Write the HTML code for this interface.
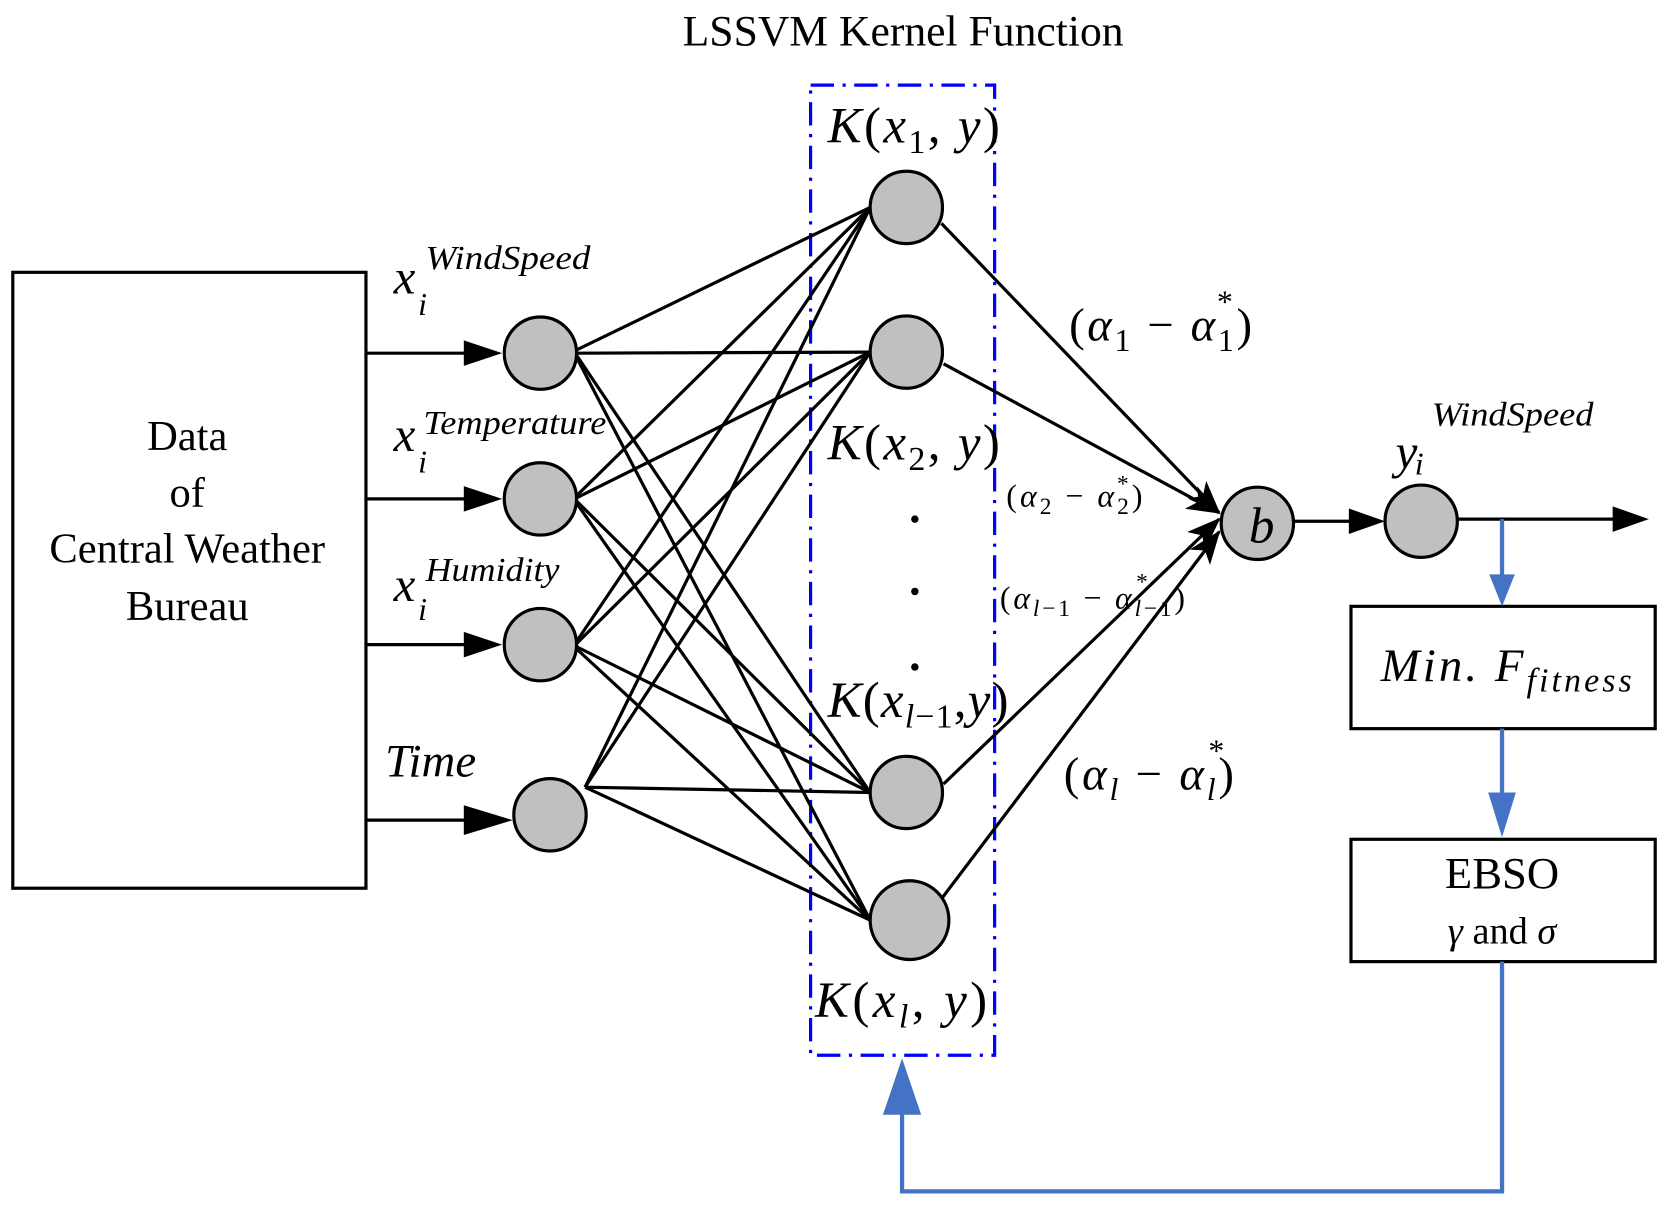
<!DOCTYPE html>
<html><head><style>html,body{margin:0;padding:0;background:#fff}svg{display:block}text{font-family:"Liberation Serif",serif}</style></head><body>
<svg width="1668" height="1210" viewBox="0 0 1568 1137.5" xmlns="http://www.w3.org/2000/svg">
<defs>
<marker id="ah" markerWidth="32" markerHeight="24" refX="30" refY="12" orient="auto" markerUnits="userSpaceOnUse" viewBox="0 0 32 24"><path d="M0,0 L32,12 L0,24 L8,12 z" fill="#000"/></marker>
</defs>
<text x="849" y="43" font-size="41" text-anchor="middle">LSSVM Kernel Function</text>
<rect x="762" y="80" width="173" height="912" fill="none" stroke="#0000ff" stroke-width="3" stroke-dasharray="22,8,3,8"/>
<rect x="12" y="256" width="332" height="579" fill="none" stroke="#000" stroke-width="3"/>
<g font-size="40" text-anchor="middle"><text x="176" y="423">Data</text><text x="176" y="476">of</text><text x="176" y="529">Central Weather</text><text x="176" y="583">Bureau</text></g>
<g stroke="#000" stroke-width="3">
<line x1="344" y1="332" x2="440" y2="332"/><line x1="344" y1="469" x2="440" y2="469"/><line x1="344" y1="606" x2="440" y2="606"/><line x1="344" y1="771" x2="440" y2="771"/>
</g>
<g fill="#000"><path d="M436,320 L472,332 L436,344z"/><path d="M436,457 L472,469 L436,481z"/><path d="M436,594 L472,606 L436,618z"/><path d="M436,757 L482,771 L436,785z"/></g>
<g stroke="#000" stroke-width="3">
<line x1="542" y1="329" x2="818" y2="195"/><line x1="542" y1="332" x2="818" y2="331"/><line x1="542" y1="334" x2="818" y2="745"/><line x1="542" y1="336" x2="818" y2="865"/>
<line x1="542" y1="466" x2="818" y2="195"/><line x1="542" y1="468" x2="818" y2="331"/><line x1="542" y1="471" x2="818" y2="745"/><line x1="542" y1="473" x2="818" y2="865"/>
<line x1="542" y1="603" x2="818" y2="195"/><line x1="542" y1="605" x2="818" y2="331"/><line x1="542" y1="608" x2="818" y2="745"/><line x1="542" y1="610" x2="818" y2="865"/>
<line x1="550" y1="740" x2="818" y2="195"/><line x1="550" y1="740" x2="818" y2="331"/><line x1="550" y1="740" x2="818" y2="745"/><line x1="550" y1="740" x2="818" y2="865"/>
<line x1="885" y1="210" x2="1146" y2="482" marker-end="url(#ah)"/>
<line x1="887" y1="342" x2="1146" y2="482" marker-end="url(#ah)"/>
<line x1="887" y1="737" x2="1146" y2="488" marker-end="url(#ah)"/>
<line x1="885" y1="845" x2="1146" y2="500" marker-end="url(#ah)"/>
<line x1="1216" y1="490" x2="1270" y2="490"/><line x1="1370" y1="488" x2="1520" y2="488"/>
</g>
<g fill="#000"><path d="M1268,478 L1302,490 L1268,502z"/><path d="M1516,476 L1550,488 L1516,500z"/></g>
<g fill="#c0c0c0" stroke="#000" stroke-width="3">
<circle cx="508" cy="332" r="34"/><circle cx="508" cy="469" r="34"/><circle cx="508" cy="606" r="34"/><circle cx="517" cy="766" r="34"/>
<circle cx="852" cy="195" r="34"/><circle cx="852" cy="331" r="34"/><circle cx="852" cy="745" r="34"/><circle cx="855" cy="865" r="37"/>
<circle cx="1182" cy="492" r="34"/><circle cx="1336" cy="490" r="34"/>
</g>
<text x="1186" y="510" font-size="48" font-style="italic" text-anchor="middle">b</text>
<g fill="#000"><circle cx="860" cy="488" r="3.5"/><circle cx="860" cy="556" r="3.5"/><circle cx="860" cy="627" r="3.5"/></g>
<g font-style="italic">
<text x="370" y="276" font-size="46">x</text><text x="393" y="296" font-size="30">i</text><text x="400" y="253" font-size="32" textLength="155" lengthAdjust="spacingAndGlyphs">WindSpeed</text>
<text x="370" y="424" font-size="46">x</text><text x="393" y="444" font-size="30">i</text><text x="398" y="408" font-size="32" textLength="172" lengthAdjust="spacingAndGlyphs">Temperature</text>
<text x="370" y="565" font-size="46">x</text><text x="393" y="583" font-size="30">i</text><text x="400" y="546" font-size="32" textLength="126" lengthAdjust="spacingAndGlyphs">Humidity</text>
<text x="362" y="730" font-size="44">Time</text>
<text x="1312" y="440" font-size="46">y</text><text x="1330" y="446" font-size="30">i</text><text x="1346" y="400" font-size="32" textLength="152" lengthAdjust="spacingAndGlyphs">WindSpeed</text>
</g>
<g font-size="48">
<text x="778" y="134" textLength="162" lengthAdjust="spacing"><tspan font-style="italic">K</tspan>(<tspan font-style="italic">x</tspan><tspan font-size="32" dy="10">1</tspan><tspan dy="-10">, </tspan><tspan font-style="italic">y</tspan>)</text>
<text x="778" y="432" textLength="162" lengthAdjust="spacing"><tspan font-style="italic">K</tspan>(<tspan font-style="italic">x</tspan><tspan font-size="32" dy="10">2</tspan><tspan dy="-10">, </tspan><tspan font-style="italic">y</tspan>)</text>
<text x="778" y="674" textLength="170" lengthAdjust="spacing"><tspan font-style="italic">K</tspan>(<tspan font-style="italic">x</tspan><tspan font-size="32" dy="10" font-style="italic">l</tspan><tspan font-size="32">−1</tspan><tspan dy="-10">,</tspan><tspan font-style="italic">y</tspan>)</text>
<text x="766" y="956" textLength="162" lengthAdjust="spacing"><tspan font-style="italic">K</tspan>(<tspan font-style="italic">x</tspan><tspan font-size="32" dy="10" font-style="italic">l</tspan><tspan dy="-10">, </tspan><tspan font-style="italic">y</tspan>)</text>
</g>
<g font-size="44">
<text x="1005" y="320" textLength="172" lengthAdjust="spacing">(<tspan font-style="italic">α</tspan><tspan font-size="30" dy="10">1</tspan><tspan dy="-10"> − </tspan><tspan font-style="italic">α</tspan><tspan font-size="30" dy="10">1</tspan><tspan dy="-10">)</tspan></text>
<text x="1144" y="294" font-size="30">*</text>
<text x="1000" y="742" textLength="160" lengthAdjust="spacing">(<tspan font-style="italic">α</tspan><tspan font-size="30" dy="10" font-style="italic">l</tspan><tspan dy="-10"> − </tspan><tspan font-style="italic">α</tspan><tspan font-size="30" dy="10" font-style="italic">l</tspan><tspan dy="-10">)</tspan></text>
<text x="1136" y="716" font-size="30">*</text>
</g>
<g font-size="30">
<text x="946" y="476" textLength="128" lengthAdjust="spacing">(<tspan font-style="italic">α</tspan><tspan font-size="22" dy="7">2</tspan><tspan dy="-7"> − </tspan><tspan font-style="italic">α</tspan><tspan font-size="22" dy="7">2</tspan><tspan dy="-7">)</tspan></text>
<text x="1050" y="462" font-size="22">*</text>
<text x="940" y="572" textLength="174" lengthAdjust="spacing">(<tspan font-style="italic">α</tspan><tspan font-size="22" dy="7"><tspan font-style="italic">l</tspan>−1</tspan><tspan dy="-7"> − </tspan><tspan font-style="italic">α</tspan><tspan font-size="22" dy="7"><tspan font-style="italic">l</tspan>−1</tspan><tspan dy="-7">)</tspan></text>
<text x="1068" y="554" font-size="22">*</text>
</g>
<rect x="1270" y="570" width="286" height="115" fill="none" stroke="#000" stroke-width="3"/>
<text x="1298" y="640" font-size="44" font-style="italic" textLength="236" lengthAdjust="spacing">Min. F<tspan font-size="32" dy="10">fitness</tspan></text>
<rect x="1270" y="789" width="286" height="115" fill="none" stroke="#000" stroke-width="3"/>
<text x="1412" y="835" font-size="42" text-anchor="middle">EBSO</text>
<text x="1412" y="887" font-size="36" text-anchor="middle"><tspan font-style="italic">γ</tspan> and <tspan font-style="italic">σ</tspan></text>
<g stroke="#4472c4" stroke-width="4" fill="none">
<line x1="1412" y1="488" x2="1412" y2="545"/>
<line x1="1412" y1="685" x2="1412" y2="755"/>
<polyline points="1412,904 1412,1120 848,1120 848,1045"/>
</g>
<g fill="#4472c4"><path d="M1400,540 L1424,540 L1412,570z"/><path d="M1399,745 L1425,745 L1412,787z"/><path d="M830,1048 L866,1048 L848,995z"/></g>
</svg>
</body></html>
